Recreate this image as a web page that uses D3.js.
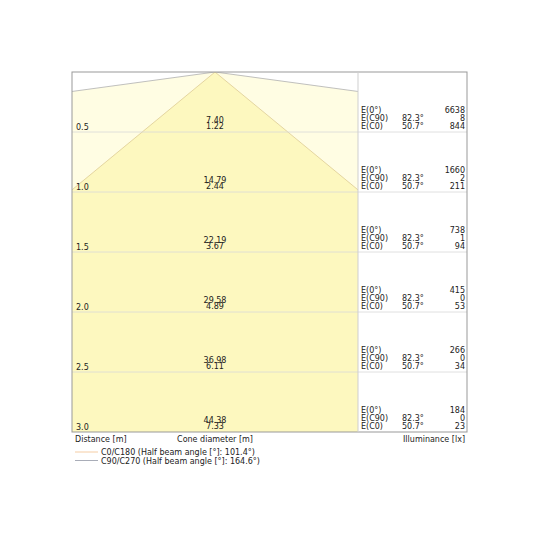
<!DOCTYPE html>
<html>
<head>
<meta charset="utf-8">
<script src="https://cdn.jsdelivr.net/npm/d3@7"></script>
<style>
  html, body { margin: 0; padding: 0; background: #fff; }
  text { font-family: "DejaVu Sans", sans-serif; font-size: 8px; fill: #222; }
</style>
</head>
<body>
<div id="chart"></div>
<script>
// ── Data ────────────────────────────────────────────────────────
const distances   = [0.5, 1.0, 1.5, 2.0, 2.5, 3.0];
const coneC90     = [7.40, 14.79, 22.19, 29.58, 36.98, 44.38];
const coneC0      = [1.22, 2.44, 3.67, 4.89, 6.11, 7.33];
const illumE0     = [6638, 1660, 738, 415, 266, 184];
const illumEC90   = [8, 2, 1, 0, 0, 0];
const illumEC0    = [844, 211, 94, 53, 34, 23];
const angleC90    = "82.3°";
const angleC0     = "50.7°";
const legendLabels = [
    "C0/C180 (Half beam angle [°]: 101.4°)",
    "C90/C270 (Half beam angle [°]: 164.6°)"
];

function drawCone() {
    const svg = d3.select("#chart").append("svg")
        .attr("width", 540).attr("height", 540);

    const left = 72, top = 72, split = 358, right = 467, bottom = 432;

    const y = d3.scaleLinear().domain([0, 3]).range([top, bottom]);
    const x = d3.scaleLinear().domain([-1.2, 1.2]).range([left, split]);

    svg.append("clipPath").attr("id", "plot-clip")
        .append("rect").attr("x", left).attr("y", top)
        .attr("width", split - left).attr("height", bottom - top);

    const plot = svg.append("g").attr("clip-path", "url(#plot-clip)");
    const last = distances.length - 1;
    const dMax = distances[last];

    // cones: outer C90 (light), inner C0 (darker)
    const cones = [
        { half: coneC90[last] / 2, fill: "#fffde3", stroke: "#b0b0b0" },
        { half: coneC0[last] / 2,  fill: "#fdf8bf", stroke: "#ddcc94" }
    ];
    cones.forEach(c => {
        const pts = [[0, 0], [-c.half, dMax], [c.half, dMax]];
        plot.append("path")
            .attr("d", d3.line().x(p => x(p[0])).y(p => y(p[1]))(pts) + "Z")
            .attr("fill", c.fill);
    });
    cones.forEach(c => {
        [-1, 1].forEach(s => {
            plot.append("line")
                .attr("x1", x(0)).attr("y1", y(0))
                .attr("x2", x(s * c.half)).attr("y2", y(dMax))
                .attr("stroke", c.stroke).attr("stroke-width", 0.8);
        });
    });

    // gridlines
    svg.selectAll("line.grid").data(distances.slice(0, last)).join("line")
        .attr("class", "grid")
        .attr("x1", left).attr("x2", right)
        .attr("y1", d => y(d)).attr("y2", d => y(d))
        .attr("stroke", "#d8d8d8").attr("stroke-width", 0.8);

    // frame
    svg.append("rect").attr("x", left).attr("y", top)
        .attr("width", right - left).attr("height", bottom - top)
        .attr("fill", "none").attr("stroke", "#999").attr("stroke-width", 1);
    svg.append("line").attr("x1", split).attr("x2", split)
        .attr("y1", top).attr("y2", bottom)
        .attr("stroke", "#cfcfcf").attr("stroke-width", 1);

    // per-row labels
    distances.forEach((d, i) => {
        const gy = y(d);
        svg.append("text").attr("x", left + 4).attr("y", gy - 2)
            .text(d3.format(".1f")(d));
        svg.append("text").attr("x", x(0)).attr("y", gy - 9.5)
            .attr("text-anchor", "middle").text(d3.format(".2f")(coneC90[i]));
        svg.append("text").attr("x", x(0)).attr("y", gy - 3.5)
            .attr("text-anchor", "middle").text(d3.format(".2f")(coneC0[i]));

        const rows = [
            ["E(0°)", "", illumE0[i]],
            ["E(C90)", angleC90, illumEC90[i]],
            ["E(C0)", angleC0, illumEC0[i]]
        ];
        rows.forEach((r, j) => {
            const ty = gy - 19 + j * 8;
            svg.append("text").attr("x", split + 3).attr("y", ty).text(r[0]);
            svg.append("text").attr("x", split + 44).attr("y", ty).text(r[1]);
            svg.append("text").attr("x", right - 2).attr("y", ty)
                .attr("text-anchor", "end").text(r[2]);
        });
    });

    // axis captions
    svg.append("text").attr("x", left + 3).attr("y", bottom + 10).text("Distance [m]");
    svg.append("text").attr("x", x(0)).attr("y", bottom + 10)
        .attr("text-anchor", "middle").text("Cone diameter [m]");
    svg.append("text").attr("x", right - 2).attr("y", bottom + 10)
        .attr("text-anchor", "end").text("Illuminance [lx]");

    // legend
    const legendColors = ["#f5cda4", "#a9adb8"];
    legendLabels.forEach((lab, i) => {
        const ly = 452 + i * 8.5;
        svg.append("line").attr("x1", left + 3).attr("x2", left + 26)
            .attr("y1", ly).attr("y2", ly)
            .attr("stroke", legendColors[i]).attr("stroke-width", 1);
        svg.append("text").attr("x", left + 29).attr("y", ly + 3).text(lab);
    });
}

drawCone();
</script>
</body>
</html>
